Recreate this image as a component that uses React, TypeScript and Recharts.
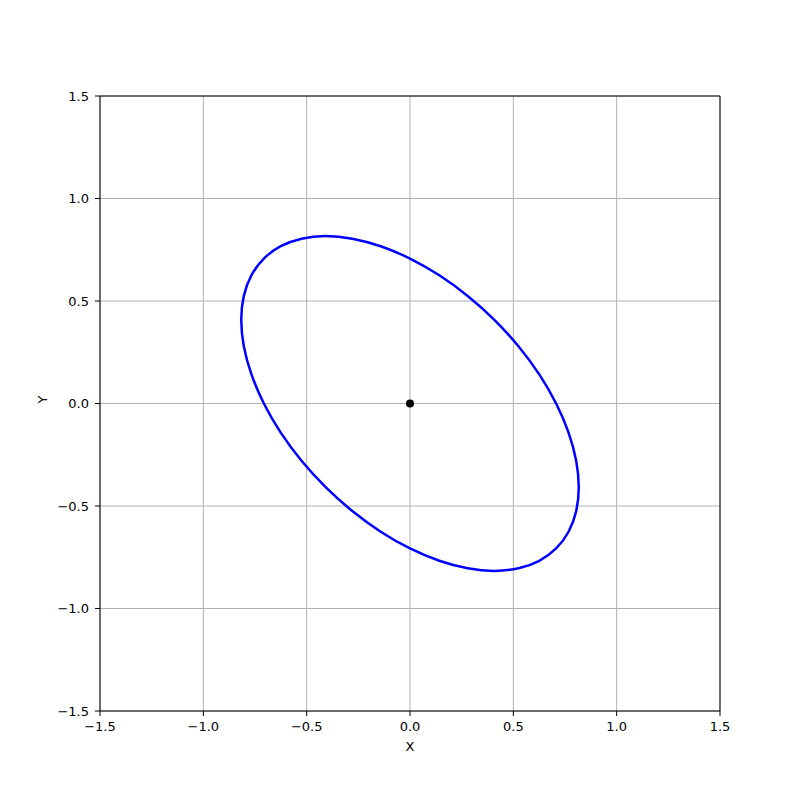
import React from "react";
import {
  ComposedChart,
  Line,
  XAxis,
  YAxis,
  CartesianGrid,
  ReferenceLine,
  ReferenceDot,
} from "recharts";

const ellipseX = [
  0.7071, 0.7673, 0.8041, 0.8165, 0.8041, 0.7672, 0.7071, 0.6254, 0.5248, 0.4082,
  0.2792, 0.1418, 0.0, -0.1418, -0.2793, -0.4083, -0.5249, -0.6255, -0.7071,
  -0.7673, -0.8041, -0.8165, -0.8041, -0.7672, -0.7071, -0.6254, -0.5248, -0.4082,
  -0.2792, -0.1418, 0.0, 0.1418, 0.2793, 0.4083, 0.5249, 0.6255,
];
const ellipseY = [
  -0.7071, -0.6255, -0.5249, -0.4083, -0.2793, -0.1418, 0.0, 0.1418, 0.2792, 0.4082,
  0.5248, 0.6254, 0.7071, 0.7672, 0.8041, 0.8165, 0.8041, 0.7673, 0.7071,
  0.6255, 0.5249, 0.4083, 0.2793, 0.1418, 0.0, -0.1418, -0.2792, -0.4082,
  -0.5248, -0.6254, -0.7071, -0.7672, -0.8041, -0.8165, -0.8041, -0.7673,
];
const centerPoint = { x: 0, y: 0 };
const xTicks = [-1.5, -1.0, -0.5, 0.0, 0.5, 1.0, 1.5];
const yTicks = [-1.5, -1.0, -0.5, 0.0, 0.5, 1.0, 1.5];

const ellipseData = ellipseX.map((x, i) => ({ x, y: ellipseY[i] }));

const fmt = (v: number) => v.toFixed(1).replace("-", "\u2212");

const FONT = "DejaVu Sans, sans-serif";

// closed Catmull-Rom curve factory (passes through every data point, smooth join)
const closedCatmull: any = (context: any) => {
  let pts: number[][] = [];
  return {
    areaStart() {},
    areaEnd() {},
    lineStart() {
      pts = [];
    },
    point(x: number, y: number) {
      pts.push([+x, +y]);
    },
    lineEnd() {
      const n = pts.length;
      if (n === 0) return;
      context.moveTo(pts[0][0], pts[0][1]);
      for (let i = 0; i < n; i++) {
        const p0 = pts[(i - 1 + n) % n];
        const p1 = pts[i];
        const p2 = pts[(i + 1) % n];
        const p3 = pts[(i + 2) % n];
        context.bezierCurveTo(
          p1[0] + (p2[0] - p0[0]) / 6,
          p1[1] + (p2[1] - p0[1]) / 6,
          p2[0] - (p3[0] - p1[0]) / 6,
          p2[1] - (p3[1] - p1[1]) / 6,
          p2[0],
          p2[1]
        );
      }
      context.closePath();
    },
  };
};

export default function App() {
  return (
    <div style={{ position: "absolute", left: 0, top: 0, width: 800, height: 799, background: "#fff" }}>
      <ComposedChart
        width={800}
        height={799}
        margin={{ top: 96, right: 80, left: 40, bottom: 38 }}
      >
        <CartesianGrid stroke="#b0b0b0" strokeWidth={1} />
        <XAxis
          type="number"
          dataKey="x"
          domain={[-1.5, 1.5]}
          ticks={xTicks}
          tickFormatter={fmt}
          allowDataOverflow
          height={50}
          stroke="#000"
          tickSize={5}
          tickMargin={6}
          tick={{ fill: "#000", fontSize: 13, fontFamily: FONT }}
          label={{ value: "X", position: "insideBottom", offset: 10, fill: "#000", fontSize: 13, fontFamily: FONT }}
        />
        <YAxis
          type="number"
          dataKey="y"
          domain={[-1.5, 1.5]}
          ticks={yTicks}
          tickFormatter={fmt}
          allowDataOverflow
          width={60}
          stroke="#000"
          tickSize={5}
          tickMargin={6}
          tick={{ fill: "#000", fontSize: 13, fontFamily: FONT }}
          label={{ value: "Y", angle: -90, position: "insideLeft", offset: 2, fill: "#000", fontSize: 13, fontFamily: FONT }}
        />
        <ReferenceLine x={1.5} stroke="#000" strokeWidth={1} />
        <ReferenceLine y={1.5} stroke="#000" strokeWidth={1} />
        <Line
          data={ellipseData}
          dataKey="y"
          type={closedCatmull}
          stroke="#0000ff"
          strokeWidth={2.5}
          fill="none"
          dot={false}
          activeDot={false}
          isAnimationActive={false}
        />
        <ReferenceDot x={centerPoint.x} y={centerPoint.y} r={4} fill="#000" stroke="#000" strokeWidth={0} />
      </ComposedChart>
    </div>
  );
}
